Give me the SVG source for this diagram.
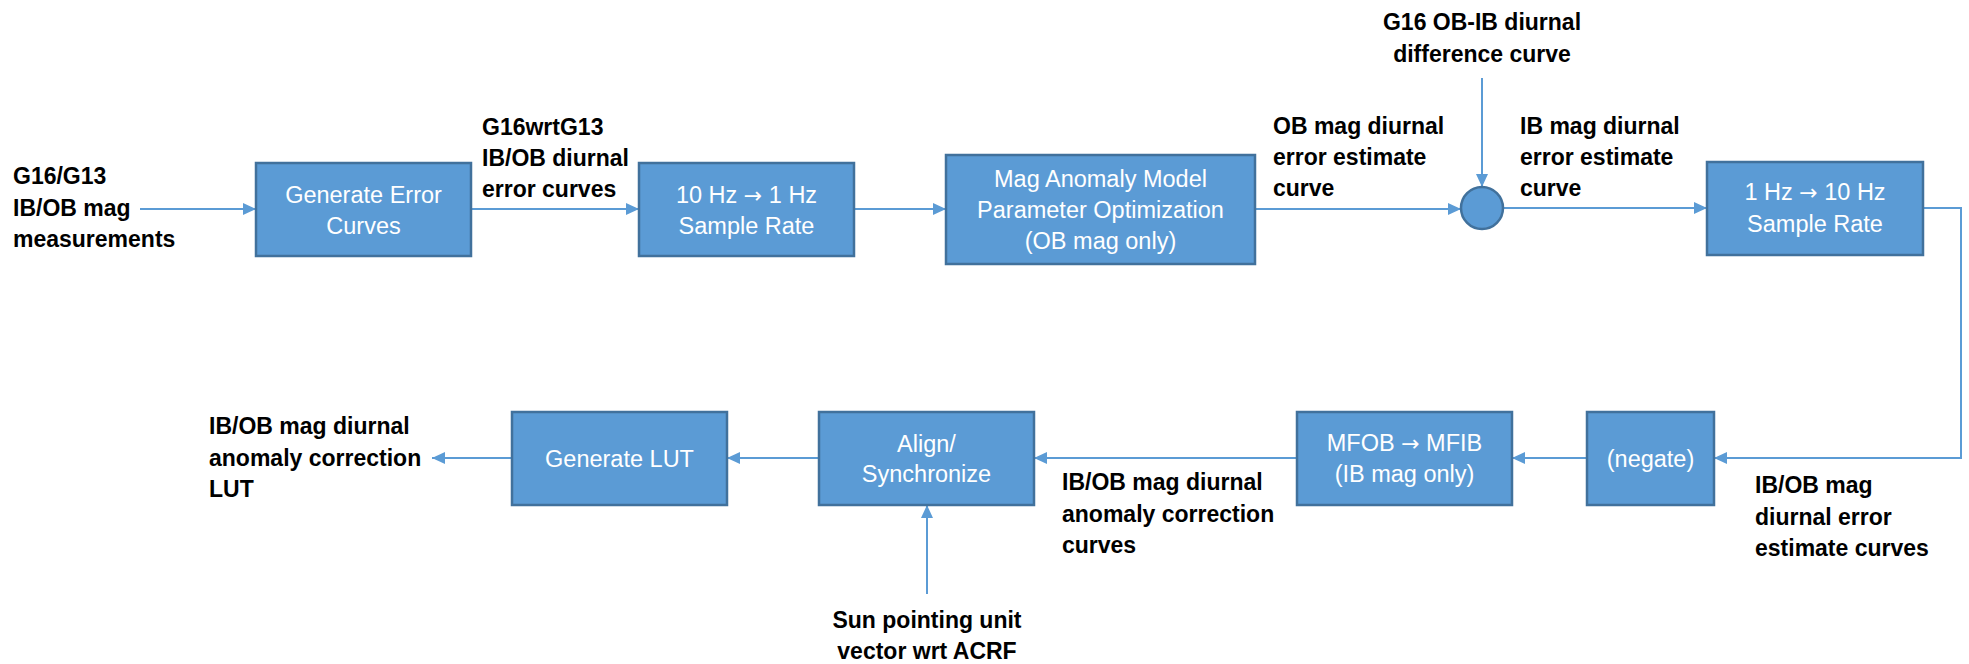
<svg xmlns="http://www.w3.org/2000/svg" width="1969" height="664" viewBox="0 0 1969 664">
<style>
.box{fill:#5B9BD5;stroke:#41719C;stroke-width:2.5}
.bt{font-family:"Liberation Sans",Arial,sans-serif;font-size:23.5px;fill:#FFFFFF;text-anchor:middle}
.ar{font-family:"DejaVu Sans",sans-serif;font-size:22px}
.lb{font-family:"Liberation Sans",Arial,sans-serif;font-size:23px;font-weight:bold;fill:#000000}
.c{fill:none;stroke:#5B9BD5;stroke-width:2;marker-end:url(#ah)}
</style>
<defs>
<marker id="ah" viewBox="0 0 13 12" refX="13" refY="6" markerWidth="13" markerHeight="12" markerUnits="userSpaceOnUse" orient="auto">
<path d="M0,0 L13,6 L0,12 z" fill="#5B9BD5"/>
</marker>
</defs>
<rect width="1969" height="664" fill="#FFFFFF"/>
<g id="connectors">
<path class="c" d="M140,209 H256"/>
<path class="c" d="M471,209 H639"/>
<path class="c" d="M854,209 H946"/>
<path class="c" d="M1255,209 H1461"/>
<path class="c" d="M1482,78 V187"/>
<path class="c" d="M1503,208 H1707"/>
<path class="c" d="M1923,208 H1961 V458 H1714"/>
<path class="c" d="M1587,458 H1512"/>
<path class="c" d="M1297,458 H1034"/>
<path class="c" d="M927,594 V505"/>
<path class="c" d="M819,458 H727"/>
<path class="c" d="M512,458 H432"/>
</g>
<g id="gen-error">
<rect class="box" x="256" y="163" width="215" height="93"/>
<text class="bt" x="363.5" y="203">Generate Error</text>
<text class="bt" x="363.5" y="234">Curves</text>
</g>
<g id="downsample">
<rect class="box" x="639" y="163" width="215" height="93"/>
<text class="bt" x="746.5" y="203">10 Hz <tspan class="ar">→</tspan> 1 Hz</text>
<text class="bt" x="746.5" y="234">Sample Rate</text>
</g>
<g id="optimize">
<rect class="box" x="946" y="155" width="309" height="109"/>
<text class="bt" x="1100.5" y="187">Mag Anomaly Model</text>
<text class="bt" x="1100.5" y="218">Parameter Optimization</text>
<text class="bt" x="1100.5" y="249">(OB mag only)</text>
</g>
<g id="sum">
<circle cx="1482" cy="208" r="21" fill="#5B9BD5" stroke="#41719C" stroke-width="2.5"/>
</g>
<g id="upsample">
<rect class="box" x="1707" y="162" width="216" height="93"/>
<text class="bt" x="1815" y="200">1 Hz <tspan class="ar">→</tspan> 10 Hz</text>
<text class="bt" x="1815" y="232">Sample Rate</text>
</g>
<g id="negate">
<rect class="box" x="1587" y="412" width="127" height="93"/>
<text class="bt" x="1650.5" y="467">(negate)</text>
</g>
<g id="mfob-mfib">
<rect class="box" x="1297" y="412" width="215" height="93"/>
<text class="bt" x="1404.5" y="451">MFOB <tspan class="ar">→</tspan> MFIB</text>
<text class="bt" x="1404.5" y="482">(IB mag only)</text>
</g>
<g id="align">
<rect class="box" x="819" y="412" width="215" height="93"/>
<text class="bt" x="926.5" y="452">Align/</text>
<text class="bt" x="926.5" y="482">Synchronize</text>
</g>
<g id="gen-lut">
<rect class="box" x="512" y="412" width="215" height="93"/>
<text class="bt" x="619.5" y="467">Generate LUT</text>
</g>
<g id="label-input">
<text class="lb" x="13" y="184">G16/G13</text>
<text class="lb" x="13" y="215.5">IB/OB mag</text>
<text class="lb" x="13" y="247">measurements</text>
</g>
<g id="label-error-curves">
<text class="lb" x="482" y="135">G16wrtG13</text>
<text class="lb" x="482" y="166">IB/OB diurnal</text>
<text class="lb" x="482" y="197">error curves</text>
</g>
<g id="label-ob-estimate">
<text class="lb" x="1273" y="134">OB mag diurnal</text>
<text class="lb" x="1273" y="165">error estimate</text>
<text class="lb" x="1273" y="196">curve</text>
</g>
<g id="label-difference">
<text class="lb" x="1482" y="30" text-anchor="middle">G16 OB-IB diurnal</text>
<text class="lb" x="1482" y="62" text-anchor="middle">difference curve</text>
</g>
<g id="label-ib-estimate">
<text class="lb" x="1520" y="134">IB mag diurnal</text>
<text class="lb" x="1520" y="165">error estimate</text>
<text class="lb" x="1520" y="196">curve</text>
</g>
<g id="label-estimate-curves">
<text class="lb" x="1755" y="493">IB/OB mag</text>
<text class="lb" x="1755" y="525">diurnal error</text>
<text class="lb" x="1755" y="556">estimate curves</text>
</g>
<g id="label-correction-curves">
<text class="lb" x="1062" y="490">IB/OB mag diurnal</text>
<text class="lb" x="1062" y="522">anomaly correction</text>
<text class="lb" x="1062" y="553">curves</text>
</g>
<g id="label-sun">
<text class="lb" x="927" y="628" text-anchor="middle">Sun pointing unit</text>
<text class="lb" x="927" y="659" text-anchor="middle">vector wrt ACRF</text>
</g>
<g id="label-lut">
<text class="lb" x="209" y="434">IB/OB mag diurnal</text>
<text class="lb" x="209" y="466">anomaly correction</text>
<text class="lb" x="209" y="497">LUT</text>
</g>
</svg>
